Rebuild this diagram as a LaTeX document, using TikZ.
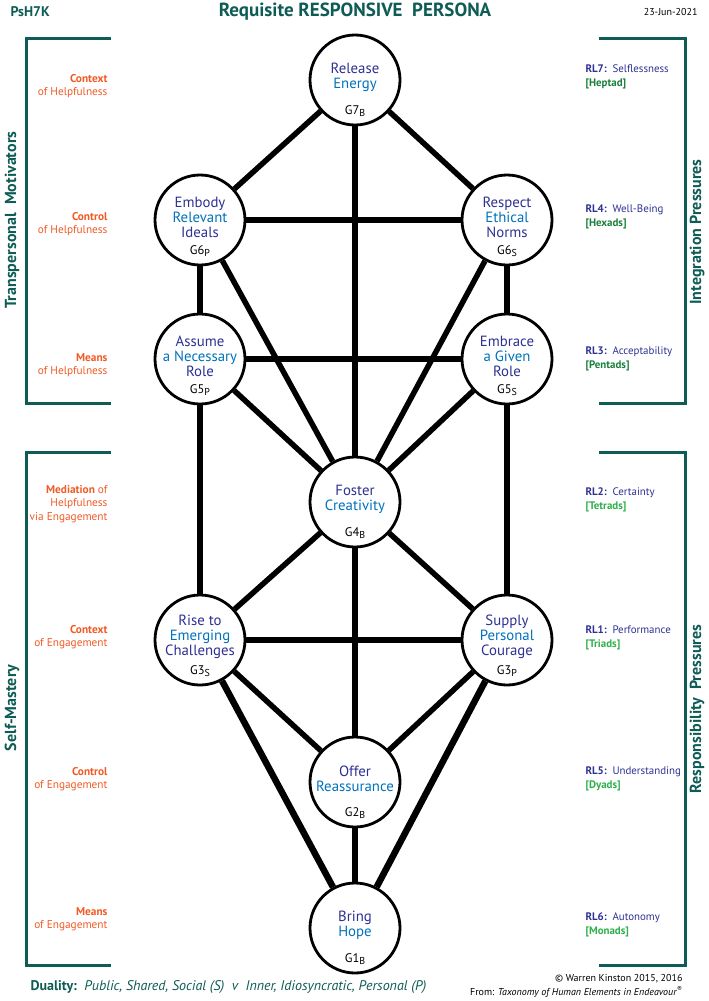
\documentclass[tikz,border=0pt]{standalone}
\usepackage{fontspec}
\setmainfont{PT Sans}
\usetikzlibrary{positioning}

\definecolor{hkteal}{HTML}{0E5C55}
\definecolor{hkorange}{HTML}{F05A24}
\definecolor{hkindigo}{HTML}{2E3192}
\definecolor{hkblue}{HTML}{0072BC}
\definecolor{hkdgreen}{HTML}{1A7F3C}
\definecolor{hklgreen}{HTML}{2DB04B}

\newcommand{\gsub}[1]{\raisebox{-1.5pt}{\fontsize{10}{10}\selectfont #1}}

\begin{document}
\begin{tikzpicture}[x=1pt, y=1pt, node distance=140pt, on grid,
    gnode/.style={circle, draw, line width=2.8pt, minimum size=90pt, inner sep=0pt, fill=white},
    gtxt/.style={label={[align=center, inner sep=0pt, yshift=3pt, font=\fontsize{14.8}{15}\selectfont, text=hkindigo]center:{#1}}},
    gcode/.style={label={[inner sep=0pt, yshift=-31pt, font=\fontsize{12.5}{12}\selectfont]center:{#1}}},
    link/.style={line width=5.5pt},
    bracket/.style={draw=hkteal, line width=3pt},
    lvl/.style={anchor=east, align=right, text=hkorange, font=\fontsize{11.3}{13.5}\selectfont},
    rl/.style={anchor=west, align=left, text=hkindigo, font=\fontsize{10.9}{13.5}\selectfont},
    side/.style={rotate=90, text=hkteal, font=\fontsize{16}{16}\selectfont\bfseries}]
   \path[use as bounding box] (0,0) rectangle (709,-1001);

   \node[gnode, gtxt={Release\\\color{hkblue}Energy}, gcode={G7\gsub{B}}] (g7) at (355,-80) {};
   \node[gnode, gtxt={Embody\\\color{hkblue}Relevant\\Ideals}, gcode={G6\gsub{P}}] (g6p) [below left=140pt and 155pt of g7] {};
   \node[gnode, gtxt={Respect\\\color{hkblue}Ethical\\Norms}, gcode={G6\gsub{S}}] (g6s) [below right=140pt and 152pt of g7] {};
   \node[gnode, gtxt={Assume\\\color{hkblue}a Necessary\\Role}, gcode={G5\gsub{P}}] (g5p) [below=139pt of g6p] {};
   \node[gnode, gtxt={Embrace\\\color{hkblue}a Given\\Role}, gcode={G5\gsub{S}}] (g5s) [below=139pt of g6s] {};
   \node[gnode, gtxt={Foster\\\color{hkblue}Creativity}, gcode={G4\gsub{B}}] (g4) [below=422pt of g7] {};
   \node[gnode, gtxt={Rise to\\\color{hkblue}Emerging\\Challenges}, gcode={G3\gsub{S}}] (g3s) [below=281pt of g5p] {};
   \node[gnode, gtxt={Supply\\\color{hkblue}Personal\\Courage}, gcode={G3\gsub{P}}] (g3p) [below=281pt of g5s] {};
   \node[gnode, gtxt={Offer\\\color{hkblue}Reassurance}, gcode={G2\gsub{B}}] (g2) [below=280pt of g4] {};
   \node[gnode, gtxt={Bring\\\color{hkblue}Hope}, gcode={G1\gsub{B}}] (g1) [below=146pt of g2] {};

   \path[link]
    (g7)  edge (g6p)
          edge (g6s)
          edge (g4)
    (g6p) edge (g6s)
          edge (g5p)
          edge (g4)
    (g6s) edge (g5s)
          edge (g4)
    (g5p) edge (g5s)
          edge (g4)
          edge (g3s)
    (g5s) edge (g4)
          edge (g3p)
    (g4)  edge (g3s)
          edge (g3p)
          edge (g2)
    (g3s) edge (g3p)
          edge (g2)
          edge[line width=6.5pt] (g1)
    (g3p) edge (g2)
          edge[line width=6.5pt] (g1)
    (g2)  edge (g1);

   \draw[bracket] (111,-38) -| (26,-403) -- (111,-403);
   \draw[bracket] (111,-452) -| (26,-965) -- (111,-965);
   \draw[bracket] (599,-38) -| (685,-403) -- (599,-403);
   \draw[bracket] (599,-452) -| (685,-965) -- (599,-965);

   \node[side] (motiv) at (12,-220) {Transpersonal\ \ Motivators};
   \node[side] (mastery) at (12,-708) {Self-Mastery};
   \node[side] (integ) at (697,-232) {Integration Pressures};
   \node[side] (respons) at (697,-709) {Responsibility\ \ Pressures};

   \node[lvl] (hctx) at (111,-86) {\textbf{Context}\\of Helpfulness};
   \node[lvl] (hctl) at (111,-224) {\textbf{Control}\\of Helpfulness};
   \node[lvl] (hmns) at (111,-365) {\textbf{Means}\\of Helpfulness};
   \node[lvl] (med) at (111,-504) {\textbf{Mediation} of\\Helpfulness\\via Engagement};
   \node[lvl] (ectx) at (111,-637) {\textbf{Context}\\of Engagement};
   \node[lvl] (ectl) at (111,-779) {\textbf{Control}\\of Engagement};
   \node[lvl] (emns) at (111,-919) {\textbf{Means}\\of Engagement};

   \node[rl] (rl7) at (582,-77) {\textbf{RL7:}\, Selflessness\\\textcolor{hkdgreen}{\textbf{[Heptad]}}};
   \node[rl] (rl4) at (582,-217) {\textbf{RL4:}\, Well-Being\\\textcolor{hkdgreen}{\textbf{[Hexads]}}};
   \node[rl] (rl3) at (582,-359) {\textbf{RL3:}\, Acceptability\\\textcolor{hkdgreen}{\textbf{[Pentads]}}};
   \node[rl] (rl2) at (582,-500) {\textbf{RL2:}\, Certainty\\\textcolor{hklgreen}{\textbf{[Tetrads]}}};
   \node[rl] (rl1) at (582,-638) {\textbf{RL1:}\, Performance\\\textcolor{hklgreen}{\textbf{[Triads]}}};
   \node[rl] (rl5) at (582,-779) {\textbf{RL5:}\, Understanding\\\textcolor{hklgreen}{\textbf{[Dyads]}}};
   \node[rl] (rl6) at (582,-925) {\textbf{RL6:}\, Autonomy\\\textcolor{hklgreen}{\textbf{[Monads]}}};

   \node[anchor=west, text=hkteal, font=\fontsize{14}{14}\selectfont\bfseries] (code) at (7,-12) {PsH7K};
   \node[text=hkteal, font=\fontsize{19}{19}\selectfont\bfseries] (title) at (355,-12) {Requisite RESPONSIVE\ \ PERSONA};
   \node[anchor=east, font=\fontsize{10}{10}\selectfont] (date) at (701,-12) {23-Jun-2021};

   \node[anchor=west, text=hkteal, font=\fontsize{14}{14}\selectfont] (duality) at (27,-987)
     {\textbf{Duality:}\ \ \textit{Public, Shared, Social (S)\ \ v\ \ Inner, Idiosyncratic, Personal (P)}};
   \node[anchor=east, font=\fontsize{10}{10}\selectfont] (copy) at (686,-979) {\copyright\ Warren Kinston 2015, 2016};
   \node[anchor=east, font=\fontsize{10}{10}\selectfont] (from) at (686,-992) {From: \textit{Taxonomy of Human Elements in Endeavour}\textsuperscript{\textregistered}};
\end{tikzpicture}
\end{document}
